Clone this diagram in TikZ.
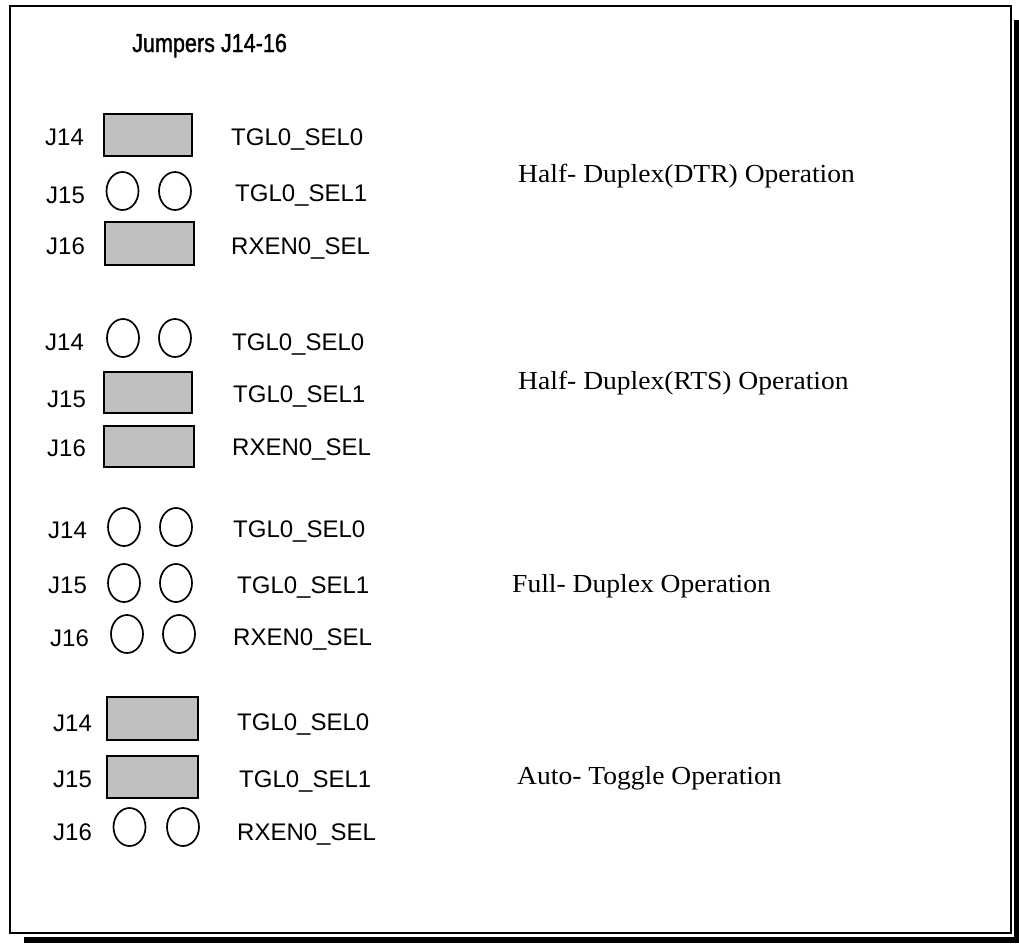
\documentclass[tikz,border=0pt]{standalone}
\usepackage{fontspec}
\setmainfont{Liberation Serif}
\newfontfamily\labfont{Liberation Sans}
\newfontfamily\ttlfont[FakeStretch=0.83,FakeBold=1.2]{Liberation Sans}
\newfontfamily\opfont[FakeStretch=1.06]{Liberation Serif}
\usetikzlibrary{shapes.geometric}
\definecolor{jgray}{HTML}{C0C0C0}
\tikzset{
  jumper/.style={draw=black, line width=2pt, fill=jgray, inner sep=0pt},
  pin/.style={draw=black, line width=1.7pt, ellipse, minimum width=32pt, minimum height=38pt, inner sep=0pt},
  jl/.style={font=\fontsize{24}{28}\selectfont\labfont, anchor=base west, inner sep=0pt},
  op/.style={font=\fontsize{26}{30}\selectfont\opfont, anchor=base west, inner sep=0pt},
  ttl/.style={font=\fontsize{26}{30}\selectfont\ttlfont, anchor=base west, inner sep=0pt},
  frame/.style={draw=black, line width=2.2pt},
  shadow/.style={fill=black, draw=none}
}
\begin{document}
\begin{tikzpicture}[x=1pt,y=-1pt]
\useasboundingbox (0,0) rectangle (1019,943);
% frame and shadow
\fill[shadow] (1014,20) rectangle (1019,943);
\fill[shadow] (24,937) rectangle (1019,943);
\draw[frame] (10,6) rectangle (1011,933);
% title
\node[ttl] (title) at (132,52) {Jumpers J14-16};

% ---------- group 1 ----------
\node[jl] (a14) at (45,145.5) {J14};
\node[jl] (a15) at (46,203) {J15};
\node[jl] (a16) at (46,254.5) {J16};
\node[jumper, minimum width=88pt, minimum height=42pt] (a14j) at (148,135) {};
\node[pin] (a15l) at (122.5,191) {};
\node[pin] (a15r) at (175,191) {};
\node[jumper, minimum width=89pt, minimum height=43pt] (a16j) at (149.5,243.5) {};
\node[jl] (a14t) at (231,145.5) {TGL0\_SEL0};
\node[jl] (a15t) at (235,201.5) {TGL0\_SEL1};
\node[jl] (a16t) at (231,254.5) {RXEN0\_SEL};
\node[op] (aop) at (518,182) {Half- Duplex(DTR) Operation};

% ---------- group 2 ----------
\node[jl] (b14) at (45,350) {J14};
\node[jl] (b15) at (47,407.5) {J15};
\node[jl] (b16) at (47,456.5) {J16};
\node[pin] (b14l) at (123,338) {};
\node[pin] (b14r) at (175,338) {};
\node[jumper, minimum width=88pt, minimum height=41pt] (b15j) at (148,392.5) {};
\node[jumper, minimum width=90pt, minimum height=41pt] (b16j) at (149,446.5) {};
\node[jl] (b14t) at (232,350) {TGL0\_SEL0};
\node[jl] (b15t) at (233,402) {TGL0\_SEL1};
\node[jl] (b16t) at (232,455.5) {RXEN0\_SEL};
\node[op] (bop) at (518,389) {Half- Duplex(RTS) Operation};

% ---------- group 3 ----------
\node[jl] (c14) at (48,538.5) {J14};
\node[jl] (c15) at (48,593.5) {J15};
\node[jl] (c16) at (50,646.5) {J16};
\node[pin] (c14l) at (124,527) {};
\node[pin] (c14r) at (176,527) {};
\node[pin] (c15l) at (124,583) {};
\node[pin] (c15r) at (176,583) {};
\node[pin] (c16l) at (127,634) {};
\node[pin] (c16r) at (179,634) {};
\node[jl] (c14t) at (233,537) {TGL0\_SEL0};
\node[jl] (c15t) at (237,593) {TGL0\_SEL1};
\node[jl] (c16t) at (233,645) {RXEN0\_SEL};
\node[op] (cop) at (512,592) {Full- Duplex Operation};

% ---------- group 4 ----------
\node[jl] (d14) at (53,731.5) {J14};
\node[jl] (d15) at (53,787.5) {J15};
\node[jl] (d16) at (53,840.5) {J16};
\node[jumper, minimum width=91pt, minimum height=43pt] (d14j) at (152.5,718.5) {};
\node[jumper, minimum width=91pt, minimum height=42pt] (d15j) at (152.5,777) {};
\node[pin] (d16l) at (129.5,827) {};
\node[pin] (d16r) at (183,827) {};
\node[jl] (d14t) at (237,730.5) {TGL0\_SEL0};
\node[jl] (d15t) at (239,787) {TGL0\_SEL1};
\node[jl] (d16t) at (237,840) {RXEN0\_SEL};
\node[op] (dop) at (517,784) {Auto- Toggle Operation};
\end{tikzpicture}
\end{document}
